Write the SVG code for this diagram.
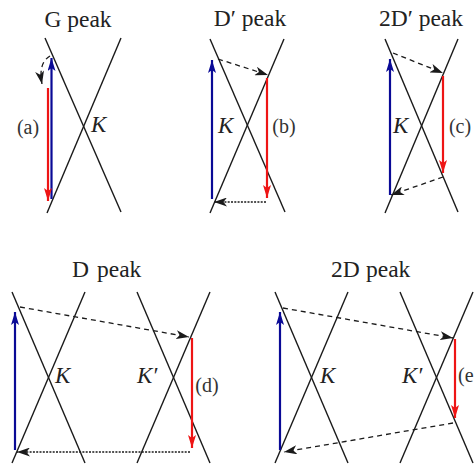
<svg xmlns="http://www.w3.org/2000/svg" width="475" height="468" viewBox="0 0 475 468">
<style>
.x{stroke:#1a1a1a;stroke-width:1.4;fill:none}
text{font-family:'Liberation Serif','DejaVu Serif',serif}
.t{font-size:23.5px;fill:#222}
.k{font-style:italic;font-size:23px;fill:#222}
.l{font-size:20px;fill:#333}
.b{stroke:#0a0a96;stroke-width:2.2;fill:none;marker-end:url(#ab)}
.r{stroke:#ee1515;stroke-width:2.2;fill:none;marker-end:url(#ar)}
.d{stroke:#1a1a1a;stroke-width:1.3;fill:none;stroke-dasharray:5 4;marker-end:url(#ak)}
.o{stroke:#1a1a1a;stroke-width:1.5;fill:none;stroke-dasharray:2 1.3;marker-end:url(#ak)}
</style>
<defs>
<marker id="ab" markerUnits="userSpaceOnUse" markerWidth="14" markerHeight="8" refX="13" refY="4" orient="auto"><path d="M0,0 L13,4 L0,8 L3,4 Z" fill="#0a0a96"/></marker>
<marker id="ar" markerUnits="userSpaceOnUse" markerWidth="14" markerHeight="8" refX="13" refY="4" orient="auto"><path d="M0,0 L13,4 L0,8 L3,4 Z" fill="#ee1515"/></marker>
<marker id="ak" markerUnits="userSpaceOnUse" markerWidth="14" markerHeight="9" refX="13" refY="4.5" orient="auto"><path d="M0,0 L13,4.5 L0,9 L3.5,4.5 Z" fill="#1a1a1a"/></marker>
</defs>

<g id="panel-a">
<text class="t" x="78" y="27" text-anchor="middle">G peak</text>
<line class="x" x1="45" y1="38" x2="121" y2="212"/>
<line class="x" x1="121" y1="38" x2="47" y2="213"/>
<text class="k" x="91" y="132">K</text>
<text class="l" x="28" y="134" text-anchor="middle">(a)</text>
</g>

<g id="panel-b">
<text class="t" x="250" y="26" text-anchor="middle">D′ peak</text>
<line class="x" x1="210" y1="39" x2="285" y2="212"/>
<line class="x" x1="284" y1="39" x2="210" y2="213"/>
<text class="k" x="218" y="133">K</text>
<text class="l" x="284" y="133" text-anchor="middle">(b)</text>
</g>

<g id="panel-c">
<text class="t" x="421" y="26" text-anchor="middle">2D′ peak</text>
<line class="x" x1="385" y1="39" x2="458" y2="212"/>
<line class="x" x1="458" y1="39" x2="385" y2="213"/>
<text class="k" x="393" y="133">K</text>
<text class="l" x="460" y="133" text-anchor="middle">(c)</text>
</g>

<g id="panel-d">
<text class="t" x="72" y="277">D</text>
<text class="t" x="97" y="277">peak</text>
<line class="x" x1="12" y1="292" x2="85" y2="463"/>
<line class="x" x1="85" y1="292" x2="12" y2="463"/>
<line class="x" x1="137" y1="292" x2="210" y2="463"/>
<line class="x" x1="210" y1="292" x2="137" y2="463"/>
<text class="k" x="55" y="383">K</text>
<text class="k" x="137" y="383">K′</text>
<text class="l" x="207" y="392" text-anchor="middle">(d)</text>
</g>

<g id="panel-e">
<text class="t" x="331" y="277">2D</text>
<text class="t" x="366" y="277">peak</text>
<line class="x" x1="275" y1="292" x2="348" y2="463"/>
<line class="x" x1="348" y1="292" x2="275" y2="463"/>
<line class="x" x1="400" y1="292" x2="473" y2="463"/>
<line class="x" x1="473" y1="292" x2="400" y2="463"/>
<text class="k" x="320" y="383">K</text>
<text class="k" x="402" y="383">K′</text>
<text class="l" x="458" y="382">(e</text>
</g>

<g id="connectors">
<line class="b" x1="51.5" y1="199" x2="51.5" y2="58"/>
<line class="r" x1="48" y1="88" x2="48" y2="201"/>
<path class="d" d="M50,56 Q38,63 42,84"/>

<line class="b" x1="212" y1="199" x2="212" y2="60"/>
<line class="r" x1="267" y1="78" x2="267" y2="198"/>
<line class="d" x1="218" y1="59" x2="268" y2="75"/>
<line class="o" x1="266" y1="202" x2="214" y2="202"/>

<line class="b" x1="390" y1="195" x2="390" y2="59"/>
<line class="r" x1="443" y1="76" x2="443" y2="173"/>
<line class="d" x1="393" y1="53" x2="443" y2="73"/>
<line class="d" x1="443" y1="177" x2="391" y2="195"/>

<line class="b" x1="15" y1="450" x2="15" y2="312"/>
<line class="r" x1="192" y1="338" x2="192" y2="448"/>
<line class="d" x1="20" y1="307" x2="189" y2="337"/>
<line class="o" x1="190" y1="452" x2="17" y2="452"/>

<line class="b" x1="280" y1="450" x2="280" y2="312"/>
<line class="r" x1="455" y1="339" x2="455" y2="418"/>
<line class="d" x1="283" y1="308" x2="453" y2="338"/>
<line class="d" x1="453" y1="423" x2="284" y2="452"/>
</g>
</svg>
